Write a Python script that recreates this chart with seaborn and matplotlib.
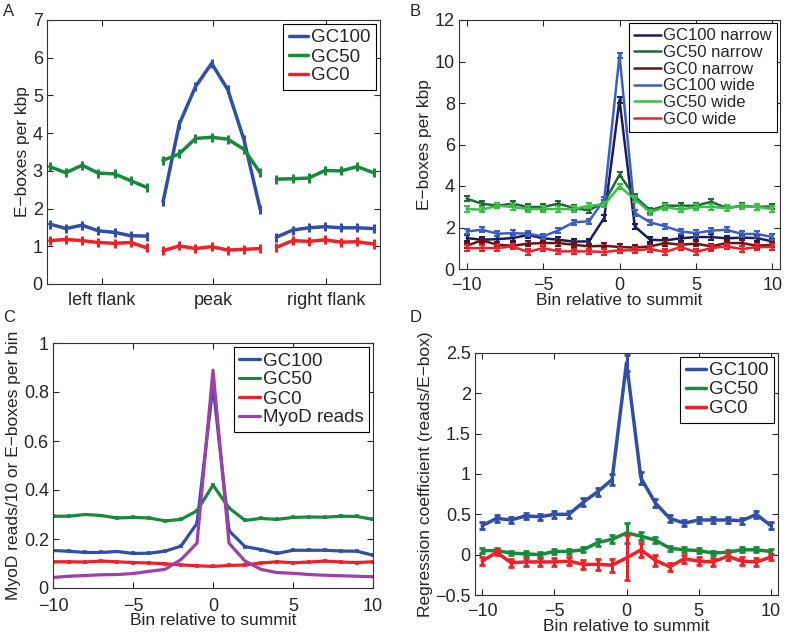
import numpy as np
import pandas as pd
import matplotlib
matplotlib.use("Agg")
import matplotlib.pyplot as plt
import seaborn as sns

# ---- panel A: E-boxes per kbp in flanks / peak ----
groups_a = ["left flank", "peak", "right flank"]
gc100_a = [1.59, 1.47, 1.56, 1.41, 1.37, 1.28, 1.27,
           2.18, 4.24, 5.23, 5.85, 5.15, 3.82, 1.98,
           1.24, 1.43, 1.49, 1.52, 1.49, 1.49, 1.47]
gc50_a = [3.11, 2.95, 3.15, 2.94, 2.92, 2.74, 2.56,
          3.28, 3.45, 3.86, 3.89, 3.84, 3.57, 2.95,
          2.78, 2.79, 2.81, 3.01, 3.00, 3.11, 2.95]
gc0_a = [1.15, 1.18, 1.15, 1.10, 1.08, 1.10, 0.96,
         0.88, 1.01, 0.94, 0.99, 0.90, 0.92, 0.94,
         0.97, 1.15, 1.13, 1.17, 1.11, 1.12, 1.06]
err_a = 0.12

# ---- panel B: narrow vs wide peaks ----
bins = list(range(-10, 11))
gc100_narrow = [1.49, 1.41, 1.44, 1.49, 1.64, 1.48, 1.41, 1.32, 1.33, 2.46, 8.15,
                2.05, 1.41, 1.38, 1.48, 1.54, 1.54, 1.48, 1.51, 1.49, 1.33]
gc50_narrow = [3.39, 3.15, 3.05, 3.15, 2.99, 2.99, 3.15, 2.94, 2.83, 3.21, 4.54,
               3.50, 2.83, 3.05, 3.05, 3.05, 3.24, 2.94, 3.05, 2.99, 3.02]
gc0_narrow = [1.12, 1.38, 1.17, 1.12, 1.22, 1.25, 1.25, 1.17, 1.09, 1.12, 1.06,
              1.03, 1.09, 1.25, 1.17, 1.22, 1.09, 1.25, 1.25, 1.12, 1.17]
gc100_wide = [1.81, 1.89, 1.70, 1.73, 1.70, 1.57, 1.86, 2.25, 2.30, 3.34, 10.3,
              2.70, 2.25, 2.05, 1.81, 1.73, 1.85, 1.89, 1.69, 1.69, 1.54]
gc50_wide = [2.89, 2.86, 3.05, 2.99, 2.89, 2.89, 2.89, 2.89, 3.05, 3.10, 3.98,
             3.37, 2.73, 2.99, 2.86, 2.99, 2.99, 2.94, 3.02, 2.99, 2.89]
gc0_wide = [1.01, 1.01, 1.01, 1.09, 0.82, 1.01, 0.85, 0.85, 0.85, 0.82, 0.90,
            0.90, 0.96, 0.82, 1.06, 0.82, 1.01, 1.09, 0.96, 1.06, 1.06]
err_b = 0.13

# ---- panel C: reads and E-boxes per bin ----
gc100_c = [0.153, 0.150, 0.145, 0.145, 0.149, 0.141, 0.142, 0.150, 0.171, 0.264, 0.826,
           0.234, 0.169, 0.157, 0.141, 0.154, 0.154, 0.154, 0.151, 0.150, 0.134]
gc50_c = [0.293, 0.293, 0.300, 0.296, 0.286, 0.288, 0.286, 0.274, 0.280, 0.315, 0.420,
          0.327, 0.276, 0.284, 0.280, 0.288, 0.290, 0.289, 0.293, 0.292, 0.280]
gc0_c = [0.107, 0.107, 0.106, 0.110, 0.107, 0.104, 0.102, 0.099, 0.094, 0.091, 0.088,
         0.092, 0.094, 0.102, 0.107, 0.103, 0.106, 0.110, 0.106, 0.104, 0.107]
myod_c = [0.043, 0.048, 0.051, 0.054, 0.055, 0.059, 0.068, 0.076, 0.116, 0.183, 0.889,
          0.183, 0.110, 0.076, 0.063, 0.060, 0.055, 0.052, 0.050, 0.048, 0.046]

# ---- panel D: regression coefficients ----
gc100_d = [0.36, 0.45, 0.43, 0.48, 0.47, 0.50, 0.50, 0.65, 0.78, 0.93, 2.38,
           0.95, 0.64, 0.45, 0.39, 0.43, 0.43, 0.43, 0.42, 0.50, 0.36]
gc100_d_err = [0.04, 0.04, 0.04, 0.04, 0.04, 0.04, 0.04, 0.05, 0.05, 0.07, 0.10,
               0.07, 0.05, 0.04, 0.04, 0.04, 0.04, 0.04, 0.04, 0.04, 0.04]
gc50_d = [0.05, 0.05, 0.02, 0.01, 0.00, 0.04, 0.04, 0.06, 0.15, 0.19, 0.27,
          0.23, 0.18, 0.08, 0.06, 0.05, 0.02, 0.03, 0.06, 0.06, 0.04]
gc50_d_err = [0.03, 0.03, 0.03, 0.03, 0.03, 0.03, 0.03, 0.03, 0.04, 0.05, 0.12,
              0.05, 0.04, 0.03, 0.03, 0.03, 0.03, 0.03, 0.03, 0.03, 0.03]
gc0_d = [-0.08, 0.03, -0.10, -0.09, -0.09, -0.09, -0.08, -0.12, -0.12, -0.13, -0.04,
         0.06, -0.07, -0.15, -0.05, -0.08, -0.09, -0.02, -0.08, -0.09, -0.03]
gc0_d_err = [0.05, 0.04, 0.05, 0.05, 0.05, 0.05, 0.05, 0.06, 0.07, 0.08, 0.28,
             0.09, 0.07, 0.05, 0.05, 0.05, 0.05, 0.05, 0.05, 0.05, 0.04]

BLUE = "#2f4fa8"
GREEN = "#178a3c"
RED = "#ee2028"
MAGENTA = "#a03fa8"

sns.set_style("ticks")
plt.rcParams["font.family"] = ["Liberation Sans", "DejaVu Sans"]
plt.rcParams["axes.linewidth"] = 0.8

fig = plt.figure(figsize=(7.86, 6.33), dpi=100)
W, H = 786, 633


def add_ax(l, r, t, b):
    return fig.add_axes([l / W, 1 - b / H, (r - l) / W, (b - t) / H])


def style(ax, xpad=6):
    ax.tick_params(direction="in", top=True, right=True, labelsize=13,
                   length=4, width=0.8, pad=3)
    ax.tick_params(axis="x", pad=xpad)
    for s in ax.spines.values():
        s.set_visible(True)
        s.set_color("#333333")


def legend(ax, labels, colors, lw, size=12.5, hl=1.6):
    handles = [plt.Line2D([], [], color=c, lw=lw) for c in colors]
    leg = ax.legend(handles, labels, loc="upper right", fontsize=size,
                    frameon=True, fancybox=False, edgecolor="black",
                    framealpha=1, handlelength=hl, handletextpad=0.15,
                    borderaxespad=0.2, borderpad=0.3, labelspacing=0.1)
    leg.get_frame().set_linewidth(0.8)


# ---------------- A ----------------
axA = add_ax(47, 380, 20, 284)
xa = np.arange(1, 22)
dfA = pd.DataFrame({"x": np.tile(xa, 3),
                    "y": gc100_a + gc50_a + gc0_a,
                    "series": ["GC100"] * 21 + ["GC50"] * 21 + ["GC0"] * 21,
                    "grp": np.tile(np.repeat([0, 1, 2], 7), 3)})
for (name, col) in [("GC100", BLUE), ("GC50", GREEN), ("GC0", RED)]:
    for g in range(3):
        sub = dfA[(dfA.series == name) & (dfA.grp == g)]
        sns.lineplot(data=sub, x="x", y="y", ax=axA, color=col, lw=2.5)
        axA.errorbar(sub.x, sub.y, yerr=err_a, fmt="none", ecolor=col,
                     elinewidth=2.2, capsize=0)
axA.set_xlim(0.83, 21.4)
axA.set_ylim(0, 7)
axA.set_xticks([4.2, 11.1, 18.05])
axA.set_xticklabels(groups_a)
axA.set_yticks(range(0, 8))
axA.set_xlabel("")
axA.set_ylabel("E\u2212boxes per kbp", fontsize=12.5, labelpad=2)
style(axA)
legend(axA, ["GC100", "GC50", "GC0"], [BLUE, GREEN, RED], 2.5, 13.5, hl=1.05)

# ---------------- B ----------------
axB = add_ax(459, 780, 20, 269)
seriesB = [("GC100 narrow", gc100_narrow, "#1b1b5e"),
           ("GC50 narrow", gc50_narrow, "#1c6b34"),
           ("GC0 narrow", gc0_narrow, "#6a1418"),
           ("GC100 wide", gc100_wide, "#3d5fc4"),
           ("GC50 wide", gc50_wide, "#3cbf48"),
           ("GC0 wide", gc0_wide, "#f0202a")]
for name, vals, col in seriesB:
    sns.lineplot(x=bins, y=vals, ax=axB, color=col, lw=1.8)
    axB.errorbar(bins, vals, yerr=err_b, fmt="none", ecolor=col,
                 elinewidth=1.8, capsize=2, capthick=1.5)
axB.set_xlim(-10.5, 10.5)
axB.set_ylim(0, 12)
axB.set_xticks([-10, -5, 0, 5, 10])
axB.set_xticklabels(["\u221210", "\u22125", "0", "5", "10"])
axB.set_yticks(range(0, 13, 2))
axB.set_xlabel("Bin relative to summit", fontsize=12.5, labelpad=-1)
axB.set_ylabel("E\u2212boxes per kbp", fontsize=12.5, labelpad=2)
style(axB)
legend(axB, [s[0] for s in seriesB], [s[2] for s in seriesB], 1.8, 12)

# ---------------- C ----------------
axC = add_ax(53, 373, 343, 588)
seriesC = [("GC100", gc100_c, BLUE), ("GC50", gc50_c, GREEN),
           ("GC0", gc0_c, RED), ("MyoD reads", myod_c, MAGENTA)]
for name, vals, col in seriesC:
    sns.lineplot(x=bins, y=vals, ax=axC, color=col, lw=2.3)
    if name != "MyoD reads":
        axC.errorbar(bins, vals, yerr=0.004, fmt="none", ecolor=col,
                     elinewidth=1.5, capsize=1.5, capthick=1.2)
axC.set_xlim(-10, 10)
axC.set_ylim(0, 1)
axC.set_xticks([-10, -5, 0, 5, 10])
axC.set_xticklabels(["\u221210", "\u22125", "0", "5", "10"])
axC.set_yticks([0, 0.2, 0.4, 0.6, 0.8, 1])
axC.set_yticklabels(["0", "0.2", "0.4", "0.6", "0.8", "1"])
axC.set_xlabel("Bin relative to summit", fontsize=12.5, labelpad=-1)
axC.set_ylabel("MyoD reads/10 or E\u2212boxes per bin", fontsize=12.5, labelpad=2)
style(axC, xpad=7)
legend(axC, [s[0] for s in seriesC], [s[2] for s in seriesC], 2.3, 13.5, hl=1.1)

# ---------------- D ----------------
axD = add_ax(475, 778, 353, 595)
seriesD = [("GC100", gc100_d, gc100_d_err, BLUE),
           ("GC50", gc50_d, gc50_d_err, GREEN),
           ("GC0", gc0_d, gc0_d_err, RED)]
for name, vals, errs, col in seriesD:
    sns.lineplot(x=bins, y=vals, ax=axD, color=col, lw=2.5)
    axD.errorbar(bins, vals, yerr=errs, fmt="none", ecolor=col,
                 elinewidth=2.2, capsize=2.5, capthick=2)
axD.set_xlim(-10.5, 10.5)
axD.set_ylim(-0.5, 2.5)
axD.set_xticks([-10, -5, 0, 5, 10])
axD.set_xticklabels(["\u221210", "\u22125", "0", "5", "10"])
axD.set_yticks([-0.5, 0, 0.5, 1, 1.5, 2, 2.5])
axD.set_yticklabels(["\u22120.5", "0", "0.5", "1", "1.5", "2", "2.5"])
axD.set_xlabel("Bin relative to summit", fontsize=12.5, labelpad=-1)
axD.set_ylabel("Regression coefficient (reads/E\u2212box)", fontsize=12.5, labelpad=2)
style(axD)
legend(axD, [s[0] for s in seriesD], [s[3] for s in seriesD], 2.5, 13.5, hl=1.1)

# panel letters
for lab, x, y in [("A", 3, 12), ("B", 410, 12), ("C", 3, 318), ("D", 410, 318)]:
    fig.text(x / W, 1 - y / H, lab, fontsize=12, va="center", ha="left")

fig.savefig("out.png", dpi=100)
